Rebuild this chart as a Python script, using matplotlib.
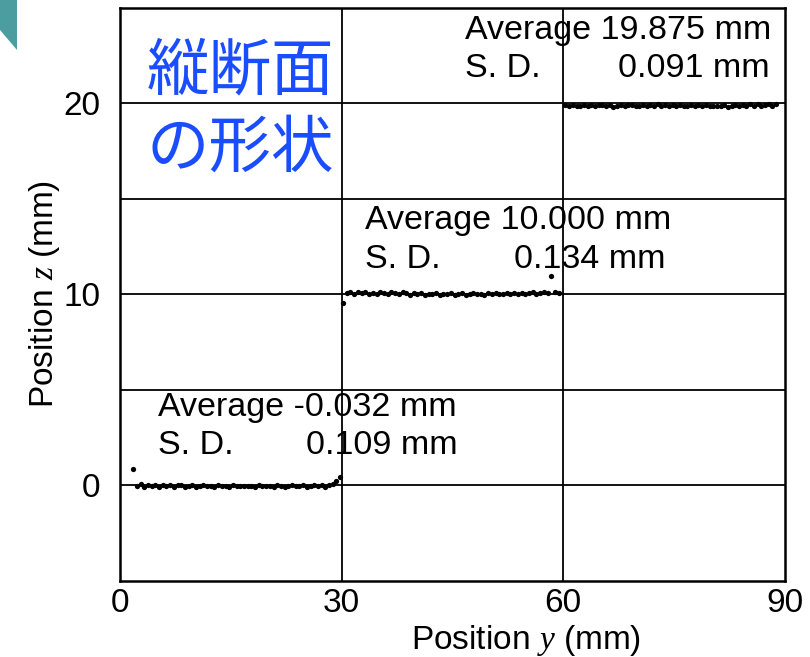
import numpy as np
import matplotlib
matplotlib.use("Agg")
import matplotlib.pyplot as plt
from matplotlib.patches import Polygon

plt.rcParams['font.family'] = ['Liberation Sans', 'DejaVu Sans']
plt.rcParams['mathtext.fontset'] = 'custom'
plt.rcParams['mathtext.it'] = 'Liberation Serif:italic'
plt.rcParams['mathtext.rm'] = 'Liberation Sans'

# ---- data ----
z1 = [0.83, -0.02, 0.05, -0.08, 0.02, -0.05, 0.04, -0.10, 0.01, -0.06, 0.03, -0.09,
      -0.01, 0.04, -0.07, -0.03, 0.02, -0.08, -0.04, 0.01, -0.06, -0.02, -0.09, 0.00,
      -0.05, -0.03, -0.07, -0.01, -0.04, -0.06, -0.02, -0.05, -0.03, -0.08, 0.00, -0.04,
      -0.06, -0.02, -0.07, -0.01, -0.05, -0.09, -0.03, 0.02, -0.06, -0.04, 0.01, -0.08,
      -0.02, 0.03, -0.05, 0.00, -0.07, 0.04, 0.06, 0.25, 0.42]
z2 = [9.55, 10.08, 10.12, 10.02, 10.10, 10.05, 10.14, 10.00, 10.09, 10.04, 10.13, 10.06,
      10.01, 10.11, 10.07, 10.03, 10.12, 10.05, 9.99, 10.08, 10.02, 10.06, 9.98, 10.04,
      10.01, 10.07, 9.97, 10.03, 10.00, 10.05, 9.96, 10.02, 10.06, 9.99, 10.03, 10.07,
      10.00, 10.04, 9.98, 10.05, 10.02, 10.06, 10.00, 10.04, 10.07, 10.01, 10.05, 10.03,
      10.08, 10.02, 10.06, 10.10, 10.04, 10.09, 10.12, 10.06, 10.95, 10.10, 10.05]
z3 = [19.90, 19.85, 19.93, 19.88, 19.86, 19.91, 19.87, 19.92, 19.84, 19.89, 19.94, 19.86,
      19.90, 19.83, 19.88, 19.92, 19.85, 19.89, 19.93, 19.87, 19.84, 19.90, 19.86, 19.91,
      19.88, 19.95, 19.85, 19.89, 19.87, 19.92, 19.86, 19.90, 19.84, 19.88, 19.91, 19.86,
      19.89, 19.85, 19.90, 19.87, 19.84, 19.88, 19.86, 19.90, 19.83, 19.87, 19.89, 19.85,
      19.92, 19.88, 19.95, 19.84, 19.98, 19.86, 19.93, 19.97, 19.88, 19.96]
y1 = np.linspace(1.8, 29.8, len(z1))
y2 = np.linspace(30.2, 59.4, len(z2))
y3 = np.linspace(60.3, 88.8, len(z3))

averages = ["-0.032", "10.000", "19.875"]
sds = ["0.109", "0.134", "0.091"]
xticks = [0, 30, 60, 90]
yticks = [0, 10, 20]

fig = plt.figure(figsize=(8.1, 6.57), dpi=100)
ax = fig.add_axes([0.148, 0.116, 0.821, 0.872])

for yy, zz in [(y1, z1), (y2, z2), (y3, z3)]:
    ax.plot(yy, zz, 'o', color='black', markersize=3.8, markeredgewidth=0, zorder=3)

for v in [30, 60]:
    ax.axvline(v, color='black', lw=1.3, zorder=2)
for h in [0, 5, 10, 15, 20]:
    ax.axhline(h, color='black', lw=1.3, zorder=2)

ax.set_xlim(0, 90)
ax.set_ylim(-5, 25)
ax.set_xticks(xticks)
ax.set_yticks(yticks)
ax.tick_params(length=0, labelsize=24)
ax.tick_params(axis='x', pad=5)
ax.tick_params(axis='y', pad=14)
for s in ax.spines.values():
    s.set_linewidth(1.8)

ax.set_xlabel("Position $\\mathit{y}$ (mm)", fontsize=24, labelpad=3, x=0.61)
ax.set_ylabel("Position $\\mathit{z}$ (mm)", fontsize=24, labelpad=1)

fs = 24.5
blocks = [(5.1, 4.05, 2.1, 45.7), (33.2, 13.85, 11.85, 73.8), (46.7, 23.8, 21.8, 88.0)]
for (xl, za, zs, xr), avg, sd in zip(blocks, averages, sds):
    ax.text(xl, za, f"Average {avg} mm", fontsize=fs, ha='left', va='center')
    ax.text(xl, zs, "S. D.", fontsize=fs, ha='left', va='center')
    ax.text(xr, zs, f"{sd} mm", fontsize=fs, ha='right', va='center')

jp = ['Noto Sans CJK JP', 'DejaVu Sans']
ax.text(3.6, 21.65, "縦断面", fontsize=45, color='#1a4dff', family=jp, ha='left', va='center')
ax.text(3.6, 17.65, "の形状", fontsize=45, color='#1a4dff', family=jp, ha='left', va='center')

W, H = 810, 657
pts = [(0, 0), (17, 0), (17, 50), (0, 30)]
fig.patches.append(Polygon([(x / W, 1 - y / H) for x, y in pts], closed=True,
                           transform=fig.transFigure, facecolor='#4b9da0', edgecolor='none'))

fig.savefig("out.png", dpi=100)
